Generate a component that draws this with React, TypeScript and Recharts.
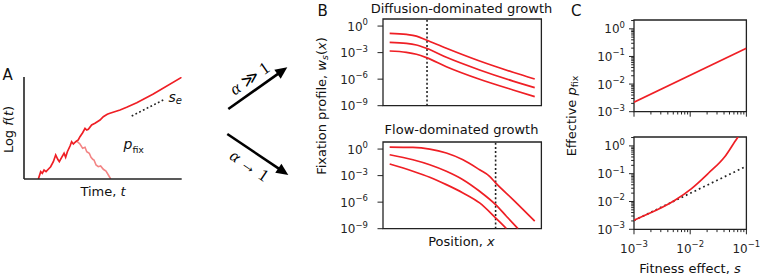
import React from "react";
import { LineChart, Line, XAxis, YAxis, ReferenceLine, ReferenceArea } from "recharts";

const RED = "#ef1f25";
const FADED = "#f38585";
const INK = "#222222";
const SANS = "'DejaVu Sans', sans-serif";
const SERIF = "'Liberation Serif', 'DejaVu Serif', serif";

// A: one lineage, log frequency against time (arbitrary units)
const survivorTime = [9.1, 10.6, 11.6, 12.7, 14.0, 15.4, 16.9, 18.6, 20.1, 21.4, 22.4, 23.9, 25.4, 26.4, 27.5, 29.2, 30.2, 31.3, 32.8, 34.4, 35.5, 37.2, 38.7, 39.8, 40.8, 42.9, 45.0, 46.5, 48.2, 50.3, 52.8, 54.5, 60.9, 65.1, 71.5, 82.0, 100];
const survivorLogF = [0, 7.3, 5.7, 9, 7.3, 9.7, 12.3, 17.3, 24, 19.7, 17.3, 21.7, 25.7, 21.7, 27.3, 33, 37.3, 35, 37.3, 39, 42.3, 46.3, 50.7, 49, 49.7, 54, 55.7, 57.3, 59, 62.3, 64.7, 65.7, 69, 71.7, 76.3, 85, 101.7];
const extinctTime = [33.8, 35.5, 37.2, 38.7, 39.8, 41.4, 42.5, 43.6, 44.4, 45.7, 47.1, 48.6, 50.3, 52.0, 53.5, 55.0];
const extinctLogF = [37.3, 35, 30.7, 31.7, 27.3, 25.7, 21.7, 19.7, 19, 14, 12.3, 13, 9.7, 8, 4, 0];
const sweepTime = [68.3, 88.3];
const sweepLogF = [63, 79];

// B: log10 of the fixation profile against position (arbitrary units)
const diffusionPos = [4.2, 14.8, 21.1, 27.4, 40, 61, 82.1, 95.8];
const diffusionHigh = [-0.82, -0.94, -1.13, -1.58, -2.51, -3.95, -5.22, -5.98];
const diffusionMid = [-1.84, -1.95, -2.14, -2.51, -3.53, -4.96, -6.22, -6.96];
const diffusionLow = [-2.82, -2.97, -3.19, -3.57, -4.59, -6.01, -7.22, -7.97];
const diffusionFront = 27.8;

const flowHighPos = [4.2, 18.9, 29.5, 40, 50.5, 61, 67.3, 71.1, 82.1, 95.8];
const flowHigh = [0.23, 0.19, 0, -0.45, -1.21, -2.34, -3.08, -3.83, -5.71, -8.15];
const flowMidPos = [4.2, 18.9, 29.5, 40, 50.5, 61, 71.1, 77.9, 85.2];
const flowMid = [-0.64, -1.21, -1.77, -2.51, -3.46, -4.77, -6.28, -7.59, -8.99];
const flowLowPos = [4.2, 18.9, 29.5, 40, 50.5, 61, 71.1, 77.9];
const flowLow = [-1.69, -2.51, -3.19, -4.02, -4.96, -6.09, -7.78, -8.98];
const flowFront = 71.1;
const profileTicks = [-9, -6, -3, 0];

// C: log10 effective p_fix against log10 s
const diffusionS = [-3, -1];
const diffusionP = [-2.66, -0.7];
const flowS = [-3, -2.805, -2.569, -2.272, -1.976, -1.681, -1.385, -1.167, -1.12];
const flowP = [-2.675, -2.495, -2.278, -1.953, -1.534, -0.993, -0.39, 0.27, 0.4];
const limitS = [-3, -1];
const limitP = [-2.68, -0.73];
const sRange = [-3, -1];
const pRange = [-3, 0.32];

const zip = (xs: number[], ys: number[]) => xs.map((x, i) => ({ x, y: ys[i] }));

const logTicks = (lo: number, hi: number) => {
  const out: number[] = [];
  for (let n = Math.floor(lo); n <= Math.ceil(hi); n++) {
    for (let k = 1; k < 10; k++) {
      const v = n + Math.log10(k);
      if (v >= lo - 1e-9 && v <= hi + 1e-9) out.push(v);
    }
  }
  return out;
};

const isDecade = (v: number) => Math.abs(v - Math.round(v)) < 1e-6;
const expText = (v: number) => (Math.round(v) === 0 ? "0" : `\u2212${Math.abs(Math.round(v))}`);

function LeftTick(props: any) {
  const { x, y, payload, len = 5, gap = 9 } = props;
  const major = isDecade(payload.value);
  const l = major ? len : len * 0.57;
  return (
    <g>
      <line x1={x - l} y1={y} x2={x} y2={y} stroke={INK} strokeWidth={1} />
      {major && (
        <text x={x - gap} y={y + 4.5} textAnchor="end" fontSize={12} fill={INK} fontFamily={SANS}>
          10<tspan dy={-5.5} fontSize={8.5}>{expText(payload.value)}</tspan>
        </text>
      )}
    </g>
  );
}

function BottomTick(props: any) {
  const { x, y, payload, labels } = props;
  const major = isDecade(payload.value);
  const l = major ? 5 : 2.8;
  return (
    <g>
      <line x1={x} y1={y} x2={x} y2={y + l} stroke={INK} strokeWidth={1} />
      {major && labels && (
        <text x={x} y={y + 23.4} textAnchor="middle" fontSize={12} fill={INK} fontFamily={SANS}>
          10<tspan dy={-5.5} fontSize={8.5}>{expText(payload.value)}</tspan>
        </text>
      )}
    </g>
  );
}

function ProfilePanel({ top, curves, front }: { top: number; curves: { x: number; y: number }[][]; front: number }) {
  return (
    <div style={{ position: "absolute", left: 383.3 - 60, top: top - 5 }}>
      <LineChart width={60 + 158.4 + 5} height={5 + 86.7 + 10} margin={{ top: 5, right: 5, bottom: 10, left: 0 }}>
        <XAxis type="number" dataKey="x" domain={[0, 100]} allowDataOverflow hide />
        <YAxis
          type="number"
          domain={[-9, 0.8]}
          ticks={profileTicks}
          interval={0}
          width={60}
          allowDataOverflow
          axisLine={false}
          tickLine={false}
          tickSize={0}
          tickMargin={0}
          tick={(p: any) => <LeftTick {...p} len={5.5} gap={15} />}
        />
        <ReferenceArea x1={0} x2={100} y1={-9} y2={0.8} fill="none" stroke={INK} strokeWidth={1.3} />
        <ReferenceLine x={front} stroke={INK} strokeWidth={1.6} strokeDasharray="2 2.2" />
        {curves.map((c, i) => (
          <Line key={i} data={c} dataKey="y" type="monotone" stroke={RED} strokeWidth={1.7} dot={false} isAnimationActive={false} />
        ))}
      </LineChart>
    </div>
  );
}

function FitnessPanel({ top, h, labels, children }: { top: number; h: number; labels: boolean; children: React.ReactNode }) {
  const xH = labels ? 30 : 8;
  return (
    <div style={{ position: "absolute", left: 634.3 - 50, top: top - 5 }}>
      <LineChart width={50 + 112.4 + 16} height={5 + h + xH} margin={{ top: 5, right: 16, bottom: 0, left: 0 }}>
        <XAxis
          type="number"
          dataKey="x"
          domain={sRange}
          ticks={logTicks(sRange[0], sRange[1])}
          interval={0}
          height={xH}
          allowDataOverflow
          axisLine={false}
          tickLine={false}
          tickSize={0}
          tickMargin={0}
          tick={(p: any) => <BottomTick {...p} labels={labels} />}
        />
        <YAxis
          type="number"
          domain={pRange}
          ticks={logTicks(pRange[0], pRange[1])}
          interval={0}
          width={50}
          allowDataOverflow
          axisLine={false}
          tickLine={false}
          tickSize={0}
          tickMargin={0}
          tick={(p: any) => <LeftTick {...p} len={5} gap={9} />}
        />
        <ReferenceArea x1={sRange[0]} x2={sRange[1]} y1={pRange[0]} y2={pRange[1]} fill="none" stroke={INK} strokeWidth={1.3} />
        {children}
      </LineChart>
    </div>
  );
}

function Arrow({ x1, y1, x2, y2 }: { x1: number; y1: number; x2: number; y2: number }) {
  const dx = x2 - x1;
  const dy = y2 - y1;
  const n = Math.hypot(dx, dy);
  const ux = dx / n;
  const uy = dy / n;
  const head = 12;
  const half = 5.5;
  const bx = x2 - ux * head;
  const by = y2 - uy * head;
  return (
    <g>
      <line x1={x1} y1={y1} x2={bx + ux} y2={by + uy} stroke="#000" strokeWidth={2.6} />
      <polygon points={`${x2},${y2} ${bx - uy * half},${by + ux * half} ${bx + uy * half},${by - ux * half}`} fill="#000" />
    </g>
  );
}

export default function App() {
  return (
    <div style={{ position: "absolute", left: 0, top: 0, width: 763, height: 278, background: "#fff", fontFamily: SANS }}>
      {/* A */}
      <div style={{ position: "absolute", left: 14, top: 72 }}>
        <LineChart width={10 + 157.7 + 5} height={5 + 102 + 1 + 4} margin={{ top: 5, right: 5, bottom: 4, left: 9 }}>
          <XAxis
            type="number"
            dataKey="x"
            domain={[0, 100]}
            allowDataOverflow
            height={1}
            tick={false}
            tickLine={false}
            axisLine={{ stroke: INK, strokeWidth: 1.6 }}
          />
          <YAxis
            type="number"
            domain={[0, 102]}
            allowDataOverflow
            width={1}
            tick={false}
            tickLine={false}
            axisLine={{ stroke: INK, strokeWidth: 1.6 }}
          />
          <Line data={zip(extinctTime, extinctLogF)} dataKey="y" type="linear" stroke={FADED} strokeWidth={1.6} dot={false} isAnimationActive={false} />
          <Line data={zip(survivorTime, survivorLogF)} dataKey="y" type="linear" stroke={RED} strokeWidth={1.7} dot={false} isAnimationActive={false} />
          <ReferenceLine segment={zip(sweepTime, sweepLogF)} stroke={INK} strokeWidth={1.6} strokeDasharray="1.8 2.4" />
        </LineChart>
      </div>

      {/* B */}
      <ProfilePanel top={19} front={diffusionFront} curves={[zip(diffusionPos, diffusionHigh), zip(diffusionPos, diffusionMid), zip(diffusionPos, diffusionLow)]} />
      <ProfilePanel top={142} front={flowFront} curves={[zip(flowHighPos, flowHigh), zip(flowMidPos, flowMid), zip(flowLowPos, flowLow)]} />

      {/* C */}
      <FitnessPanel top={20} h={91.7} labels={false}>
        <Line data={zip(diffusionS, diffusionP)} dataKey="y" type="linear" stroke={RED} strokeWidth={1.7} dot={false} isAnimationActive={false} />
      </FitnessPanel>
      <FitnessPanel top={137} h={92.3} labels>
        <Line data={zip(limitS, limitP)} dataKey="y" type="linear" stroke={INK} strokeWidth={1.7} strokeDasharray="1.8 3" dot={false} isAnimationActive={false} />
        <Line data={zip(flowS, flowP)} dataKey="y" type="monotone" stroke={RED} strokeWidth={1.7} dot={false} isAnimationActive={false} />
      </FitnessPanel>

      <svg width={763} height={278} style={{ position: "absolute", left: 0, top: 0, pointerEvents: "none" }}>
        <g fontFamily={SANS} fill="#111">
          <text x={2.5} y={80} fontSize={15}>A</text>
          <text x={317.5} y={15.5} fontSize={15}>B</text>
          <text x={571} y={15.5} fontSize={15}>C</text>

          <text transform="translate(12.5 129.5) rotate(-90)" textAnchor="middle" fontSize={13}>
            Log <tspan fontStyle="italic">f</tspan>(<tspan fontStyle="italic">t</tspan>)
          </text>
          <text x={103} y={196.4} textAnchor="middle" fontSize={13}>
            Time, <tspan fontStyle="italic">t</tspan>
          </text>
          <text x={168.5} y={101.7} fontSize={14} fontStyle="italic">
            s<tspan dy={2.5} fontSize={10}>e</tspan>
          </text>
          <text x={123.5} y={149} fontSize={14}>
            <tspan fontStyle="italic">p</tspan>
            <tspan dy={3.5} fontSize={9.5}>fix</tspan>
          </text>

          <text x={461.5} y={12.5} textAnchor="middle" fontSize={13}>Diffusion-dominated growth</text>
          <text x={461.5} y={133.5} textAnchor="middle" fontSize={13}>Flow-dominated growth</text>
          <text x={461.5} y={246} textAnchor="middle" fontSize={13}>
            Position, <tspan fontStyle="italic">x</tspan>
          </text>
          <text transform="translate(325.5 106) rotate(-90)" textAnchor="middle" fontSize={13}>
            Fixation profile, <tspan fontStyle="italic">w</tspan>
            <tspan dy={2.5} fontSize={9.5} fontStyle="italic">s</tspan>
            <tspan dy={-2.5}>(</tspan>
            <tspan fontStyle="italic">x</tspan>)
          </text>

          <text transform="translate(575.5 116) rotate(-90)" textAnchor="middle" fontSize={13}>
            Effective <tspan fontStyle="italic">p</tspan>
            <tspan dy={2.5} fontSize={9.5}>fix</tspan>
          </text>
          <text x={690} y={273} textAnchor="middle" fontSize={13}>
            Fitness effect, <tspan fontStyle="italic">s</tspan>
          </text>
        </g>

        <Arrow x1={228.3} y1={109} x2={287.3} y2={67.3} />
        <Arrow x1={227.3} y1={134} x2={288.3} y2={175} />
        <g fontFamily={SERIF} fontSize={17} fill="#000">
          <text transform="translate(250 79) rotate(-35)" textAnchor="middle" y={5}>
            <tspan fontStyle="italic">{"\u03b1"}</tspan> {"\u226b"} 1
          </text>
          <text transform="translate(249 166) rotate(34)" textAnchor="middle" y={5}>
            <tspan fontStyle="italic">{"\u03b1"}</tspan> {"\u2192"} 1
          </text>
        </g>
      </svg>
    </div>
  );
}
